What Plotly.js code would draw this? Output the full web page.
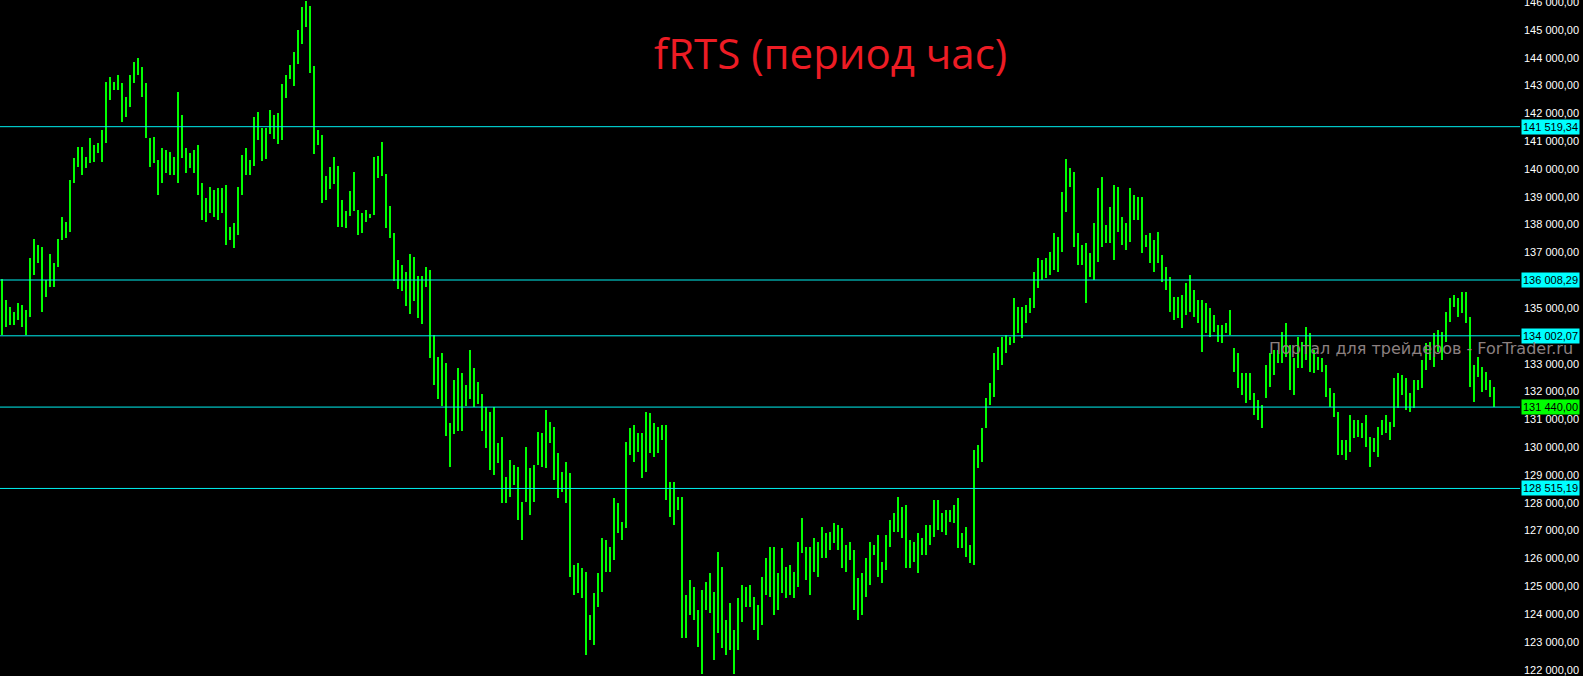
<!DOCTYPE html>
<html><head><meta charset="utf-8">
<script src="https://cdn.plot.ly/plotly-3.0.1.min.js"></script>
<style>html,body{margin:0;padding:0;background:#000;}#chart{width:1583px;height:676px;}</style>
</head><body><div id="chart"></div>
<script>
// hourly bar highs / lows of fRTS
const barHigh = [
136030,135290,135050,134870,135170,135110,134930,136790,137470,137270,
137210,136010,136940,136610,137470,138290,138110,139600,140380,140800,
140800,140440,141100,140860,140920,141400,143140,143320,143140,143380,
143080,142600,143380,143860,143980,143680,143080,141100,141160,140320,
140740,140680,140620,140440,142780,141940,140740,140560,140680,140860,
139480,138940,139360,139240,139300,139300,139420,137930,138050,139360,
140500,140740,140320,
141880,142060,141460,141460,142120,141940,142000,143040,143380,143740,
144190,145000,145830,146050,145850,143700,141390,141210,139750,140060,
140420,140120,138900,138480,139210,139880,138540,138420,138540,138380,
140420,140480,140970,139820,138660,137690,136720,136530,136290,136960,
136840,136170,136170,136470,136350,134040,133250,133370,133010,130880,
132400,132830,132650,132220,133500,132830,132340,131920,131430,131250,
131430,130150,
130380,128940,129540,129360,129300,128040,130020,129240,129360,130560,
130500,131340,130920,130740,129780,129120,129480,129060,125760,125820,
125640,125520,123970,124750,125460,126720,126660,126420,128160,127980,
127320,130200,130680,130800,130500,130500,131280,131220,130860,130740,
130800,130800,128760,128760,128220,128220,124690,125230,124990,124150,
124870,125170,125460,124810,126240,125700,123790,124390,123430,124570,
125050,124990,125050,
124630,124330,125340,126010,126420,126420,125480,126360,125700,125760,
125520,126600,127440,126420,126420,126720,126600,127140,126900,126960,
127260,127200,127080,126480,126600,126300,125290,125470,126010,126600,
126480,126840,125880,126840,127380,127620,128220,127860,127920,126660,
126600,126900,126720,127200,127200,128100,128100,127620,127740,127740,
127920,128160,126900,127140,126480,129900,130080,130680,131760,132300,
133370,133610,
133970,134030,133970,135350,135050,135050,135110,135350,136310,136790,
136730,136790,137030,137690,137570,139180,140350,140020,139900,137690,
137270,137330,136970,138050,139300,139720,137990,138640,139420,139360,
138290,138050,139300,139060,139000,139000,137630,137690,137450,137750,
136910,136490,136130,135410,135410,135470,135890,136190,135650,135290,
135290,135170,134990,134750,134390,134390,134450,134930,133550,133370,
132650,132650,132650,
131930,131700,131520,132950,133370,133490,133490,134150,134450,133670,
133190,133970,133790,134330,134090,133490,133250,133190,132950,132110,
131930,131280,130260,130260,131160,130980,130980,130860,131160,130380,
130320,130740,130980,131160,130920,132470,132650,132590,132470,131930,
132410,132410,133130,133730,133790,134090,134210,134150,134870,135350,
135470,135350,135590,135590,134690,132950,133250,132890,132710,132410,
132160
];
const barLow = [
134030,134330,134390,134390,134570,134330,134030,134690,136190,136610,
134870,135410,135770,135770,136490,137450,137510,137750,139480,140080,
139780,140020,140200,140260,140560,140260,140920,142480,142840,142840,
141700,141880,142240,143080,143380,142600,141100,140080,140200,139060,
139480,139840,139780,139780,139480,140380,139840,140020,139840,139060,
138170,138110,138410,138290,138170,138410,137270,137450,137150,137630,
139060,139780,139780,
140120,141030,140300,140360,141270,141090,140910,141030,142550,143220,
142970,143760,144490,145100,143460,140540,140850,138780,138900,139270,
139450,137930,137930,137870,138300,138480,137630,137690,138110,138240,
138360,139690,139750,137870,137510,135990,135680,135620,135080,134770,
135260,134650,134410,135740,133190,132220,131730,131490,130400,129300,
130460,130580,130580,131490,131730,131430,131550,130580,129970,129180,
129000,129430,
127980,127980,128220,128640,127380,126660,128040,127560,128040,129360,
129300,129240,130140,128820,128160,128400,127980,125350,124690,124750,
124570,122530,123070,122890,124270,124810,125520,125520,125940,126900,
126660,127080,129720,129480,129840,128880,129120,129780,129660,129780,
130260,128100,127500,127200,127740,123130,123130,123970,123790,122830,
121850,124150,124030,122350,123310,122770,122530,122710,121850,122710,
123730,124270,124270,
123430,123070,123610,124690,124630,123970,124150,124750,124570,124690,
124570,124980,126190,125230,124690,125520,125340,126010,126010,126300,
126540,126300,125650,125520,125940,124150,123790,123970,124630,125050,
126120,125340,125110,125590,126420,126960,126960,126720,125650,125650,
125880,125470,126120,126120,126480,126780,127020,126960,126840,127320,
127260,126360,126360,126060,125830,125760,129240,129480,130680,131520,
131810,132770,
132950,133370,133670,133730,134090,133910,134450,134810,134990,135710,
136010,136070,136190,136370,136310,137030,138460,139360,137210,136550,
136550,135170,136130,136010,136670,137210,137330,137330,136730,137750,
137270,137090,137390,138170,138170,136970,137210,136610,136310,136610,
135950,135650,134870,134570,134630,134270,134750,134870,134690,134450,
133430,134090,133970,134150,133790,133730,134090,134030,132710,132110,
131870,131570,131690,
131160,130980,130680,131750,132170,132590,133010,133010,133250,132050,
131870,132830,132830,133130,132710,132650,132770,132710,131810,131460,
131100,129720,129720,129540,129840,130320,130380,130320,130020,129300,
129840,129660,130440,130500,130260,130740,131400,131870,131340,131280,
131400,132050,132110,132770,133130,132890,133430,133130,133790,134510,
135050,134690,134810,134450,132170,131640,132530,131990,132050,131810,
131440
];
// horizontal levels drawn on the chart
const levelValues = [141519.34, 136008.29, 134002.07, 128515.19];
const bidValue = 131440.00;
const titleText = 'fRTS (период час)';
const watermarkText = 'Портал для трейдеров - ForTrader.ru';

function fmt(v){
  const s = v.toFixed(2).split('.');
  return s[0].replace(/\B(?=(\d{3})+(?!\d))/g,' ') + ',' + s[1];
}

const trace = {
  type:'bar',
  y: barHigh.map((h,i)=>h-barLow[i]),
  base: barLow,
  width: 0.5,
  marker:{color:'#00ff00', line:{width:0}},
  hoverinfo:'skip'
};

const allLevels = levelValues.concat([bidValue]);
const shapes = allLevels.map(v=>({
  type:'line', xref:'paper', x0:0, x1:1, yref:'y', y0:v, y1:v,
  line:{color:'#00f0f0', width:1}, layer:'above'
}));

const labelFont = {family:'Liberation Sans, Arial, sans-serif', size:11, color:'#000000'};
const annotations = levelValues.map(v=>({
  xref:'paper', x:1, xanchor:'left', xshift:1, yref:'y', y:v, yanchor:'middle',
  text: fmt(v), showarrow:false, bgcolor:'#00ffff', borderpad:1, font:labelFont
}));
annotations.push({
  xref:'paper', x:1, xanchor:'left', xshift:1, yref:'y', y:bidValue, yanchor:'middle',
  text: fmt(bidValue), showarrow:false, bgcolor:'#00ff00', borderpad:1, font:labelFont
});
annotations.push({
  xref:'paper', x:0.5467, xanchor:'center', yref:'paper', y:0.922, yanchor:'middle',
  text:titleText, showarrow:false,
  font:{family:'Open Sans, Noto Sans, sans-serif', size:42, color:'#ed1c24'}
});
annotations.push({
  xref:'paper', x:0.935, xanchor:'center', yref:'paper', y:0.485, yanchor:'middle',
  text:watermarkText, showarrow:false,
  font:{family:'DejaVu Sans, sans-serif', size:16, color:'rgb(140,128,128)'}
});

const layout = {
  width:1583, height:676,
  paper_bgcolor:'#000000', plot_bgcolor:'#000000',
  margin:{l:0, r:63, t:0, b:0},
  separators:', ',
  showlegend:false,
  bargap:0,
  xaxis:{range:[-0.5, 379.5], visible:false, fixedrange:true},
  yaxis:{
    range:[121774, 146073], side:'right', dtick:1000, tick0:0,
    tickformat:',.2f', showgrid:false, zeroline:false, showline:false,
    ticks:'', ticklabelstandoff:3, ticklabeloverflow:'allow',
    tickfont:{family:'Liberation Sans, Arial, sans-serif', size:11, color:'#ffffff'}
  },
  shapes: shapes,
  annotations: annotations
};

Plotly.newPlot('chart', [trace], layout, {displayModeBar:false, staticPlot:true});
</script>
</body></html>
